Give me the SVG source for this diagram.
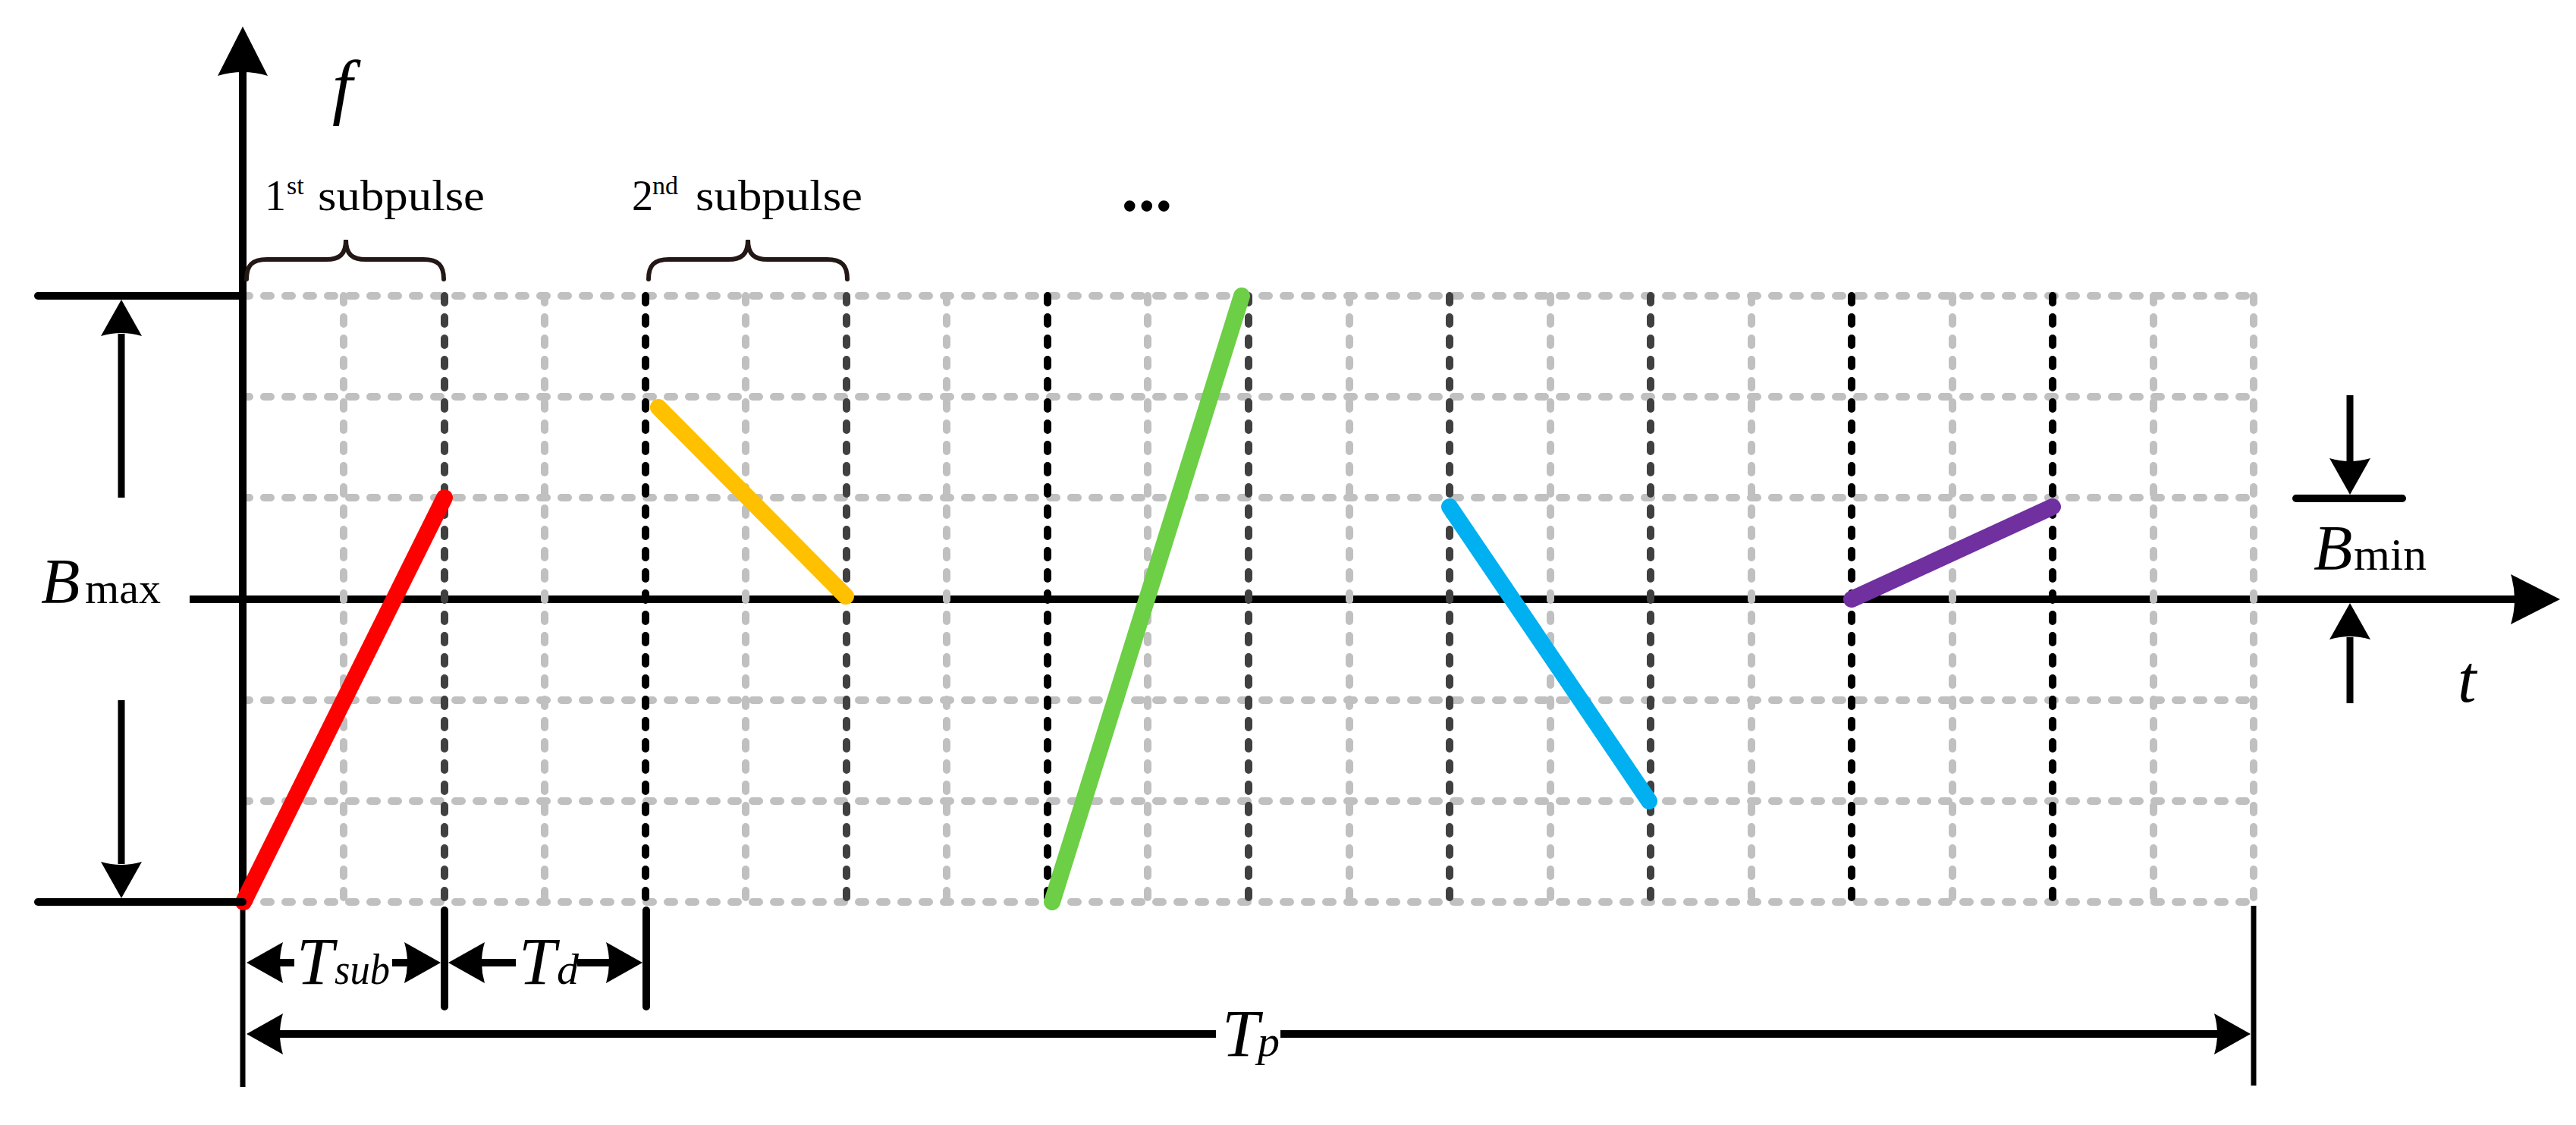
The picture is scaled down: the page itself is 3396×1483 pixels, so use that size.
<svg xmlns="http://www.w3.org/2000/svg" xmlns:xlink="http://www.w3.org/1999/xlink" width="3396" height="1483" viewBox="0 0 3396 1483">
<style>
  .gh { stroke:#C0C0C0; stroke-width:10; stroke-dasharray:9 19; stroke-linecap:round; fill:none; }
  .gv { stroke:#C0C0C0; stroke-width:10; stroke-dasharray:9 19; stroke-linecap:round; fill:none; }
  .dk { stroke:#404040; stroke-width:10; stroke-dasharray:9 19; stroke-linecap:round; fill:none; }
  .bk { stroke:#000000; stroke-width:10; stroke-dasharray:9 19; stroke-linecap:round; fill:none; }
  .ax { stroke:#000; stroke-width:10; fill:none; }
  .dim { stroke:#000; stroke-width:9; fill:none; }
  .tick { stroke:#000; stroke-width:10; stroke-linecap:round; fill:none; }
  .thin { stroke:#000; stroke-width:7; fill:none; }
  .chirp { stroke-width:22; stroke-linecap:round; fill:none; }
  .brace { stroke:#231815; stroke-width:6; fill:none; stroke-linecap:round; }
  text { font-family:"Liberation Serif","Times New Roman",serif; fill:#000; }
  .it { font-style:italic; }
</style>
<defs>
  <path id="ahBig" d="M0,0 L-65,-33 Q-55,0 -65,33 Z" fill="#000"/>
  <path id="ahSm" d="M0,0 L-48,-27 Q-40,0 -48,27 Z" fill="#000"/>
</defs>
<rect width="3396" height="1483" fill="#fff"/>

<g id="grid-horizontal">
  <line class="gh" x1="320" y1="390" x2="2971" y2="390"/>
  <line class="gh" x1="320" y1="523" x2="2971" y2="523"/>
  <line class="gh" x1="320" y1="656" x2="2971" y2="656"/>
  <line class="gh" x1="320" y1="923" x2="2971" y2="923"/>
  <line class="gh" x1="320" y1="1056" x2="2971" y2="1056"/>
  <line class="gh" x1="320" y1="1189" x2="2971" y2="1189"/>
</g>

<g id="t-axis">
  <line class="ax" x1="250" y1="790" x2="3320" y2="790"/>
  <use xlink:href="#ahBig" href="#ahBig" transform="translate(3375,790)"/>
</g>

<g id="grid-vertical">
  <line class="gv" x1="453" y1="390" x2="453" y2="1189"/>
  <line class="gv" x1="718" y1="390" x2="718" y2="1189"/>
  <line class="gv" x1="983" y1="390" x2="983" y2="1189"/>
  <line class="gv" x1="1248" y1="390" x2="1248" y2="1189"/>
  <line class="gv" x1="1513" y1="390" x2="1513" y2="1189"/>
  <line class="gv" x1="1779" y1="390" x2="1779" y2="1189"/>
  <line class="gv" x1="2044" y1="390" x2="2044" y2="1189"/>
  <line class="gv" x1="2309" y1="390" x2="2309" y2="1189"/>
  <line class="gv" x1="2574" y1="390" x2="2574" y2="1189"/>
  <line class="gv" x1="2839" y1="390" x2="2839" y2="1189"/>
  <line class="gv" x1="2971" y1="390" x2="2971" y2="1189"/>
</g>

<g id="subpulse-bounds">
  <line class="dk" x1="586" y1="390" x2="586" y2="1189"/>
  <line class="bk" x1="851" y1="390" x2="851" y2="1189"/>
  <line class="dk" x1="1116" y1="390" x2="1116" y2="1189"/>
  <line class="bk" x1="1381" y1="390" x2="1381" y2="1189"/>
  <line class="dk" x1="1646" y1="390" x2="1646" y2="1189"/>
  <line class="dk" x1="1911" y1="390" x2="1911" y2="1189"/>
  <line class="dk" x1="2176" y1="390" x2="2176" y2="1189"/>
  <line class="bk" x1="2441" y1="390" x2="2441" y2="1189"/>
  <line class="bk" x1="2706" y1="390" x2="2706" y2="1189"/>
</g>

<g id="f-axis">
  <line class="ax" x1="320" y1="95" x2="320" y2="1189"/>
  <line class="thin" x1="320" y1="1189" x2="320" y2="1433"/>
  <use xlink:href="#ahBig" href="#ahBig" transform="translate(320,35) rotate(-90)"/>
</g>

<g id="chirps">
  <line class="chirp" stroke="#FF0000" x1="321" y1="1189" x2="586" y2="656"/>
  <line class="chirp" stroke="#FFC000" x1="868" y1="537" x2="1115" y2="786"/>
  <line class="chirp" stroke="#6CCF45" x1="1387" y1="1189" x2="1637" y2="390"/>
  <line class="chirp" stroke="#00B0F0" x1="1911" y1="668" x2="2174" y2="1056"/>
  <line class="chirp" stroke="#7030A0" x1="2441" y1="790" x2="2706" y2="668"/>
</g>

<g id="bmax">
  <line class="tick" x1="50" y1="390" x2="320" y2="390"/>
  <line class="tick" x1="50" y1="1189" x2="320" y2="1189"/>
  <line class="dim" x1="160" y1="656" x2="160" y2="440"/>
  <use xlink:href="#ahSm" href="#ahSm" transform="translate(160,395) rotate(-90)"/>
  <line class="dim" x1="160" y1="923" x2="160" y2="1139"/>
  <use xlink:href="#ahSm" href="#ahSm" transform="translate(160,1184) rotate(90)"/>
  <text class="it" x="54" y="795" font-size="84">B</text>
  <text x="112" y="795" font-size="58" textLength="100" lengthAdjust="spacingAndGlyphs">max</text>
</g>

<g id="bmin">
  <line class="tick" x1="3027" y1="657" x2="3167" y2="657"/>
  <line class="dim" x1="3098" y1="521" x2="3098" y2="608"/>
  <use xlink:href="#ahSm" href="#ahSm" transform="translate(3098,652) rotate(90)"/>
  <line class="dim" x1="3098" y1="927" x2="3098" y2="840"/>
  <use xlink:href="#ahSm" href="#ahSm" transform="translate(3098,795) rotate(-90)"/>
  <text class="it" x="3050" y="751" font-size="84">B</text>
  <text x="3103" y="751" font-size="60" textLength="96" lengthAdjust="spacingAndGlyphs">min</text>
</g>

<g id="axis-labels">
  <text class="it" x="438" y="146" font-size="96">f</text>
  <text class="it" x="3240" y="925" font-size="88">t</text>
</g>

<g id="subpulse-1">
  <path class="brace" d="M325,368 C325,350 332,342 352,342 L430,342 C447,342 456,336 456,316 C456,336 465,342 482,342 L558,342 C578,342 585,350 585,368"/>
  <text x="349" y="277" font-size="56">1</text>
  <text x="378" y="256" font-size="34">st</text>
  <text x="419" y="277" font-size="58" textLength="220" lengthAdjust="spacingAndGlyphs">subpulse</text>
</g>

<g id="subpulse-2">
  <path class="brace" d="M855,368 C855,350 862,342 882,342 L960,342 C977,342 986,336 986,316 C986,336 995,342 1012,342 L1090,342 C1110,342 1117,350 1117,368"/>
  <text x="833" y="277" font-size="56">2</text>
  <text x="860" y="256" font-size="34">nd</text>
  <text x="917" y="277" font-size="58" textLength="220" lengthAdjust="spacingAndGlyphs">subpulse</text>
</g>

<g id="ellipsis">
  <text x="1478" y="278" font-size="90" font-weight="bold">...</text>
</g>

<g id="connectors">
  <line class="tick" x1="586" y1="1200" x2="586" y2="1327"/>
  <line class="tick" x1="852" y1="1200" x2="852" y2="1327"/>
  <line class="thin" x1="2971" y1="1194" x2="2971" y2="1431"/>
  <!-- Tsub -->
  <use xlink:href="#ahSm" href="#ahSm" transform="translate(325,1269) rotate(180)"/>
  <line class="ax" x1="368" y1="1269" x2="388" y2="1269"/>
  <line class="ax" x1="517" y1="1269" x2="538" y2="1269"/>
  <use xlink:href="#ahSm" href="#ahSm" transform="translate(581,1269)"/>
  <!-- Td -->
  <use xlink:href="#ahSm" href="#ahSm" transform="translate(591,1269) rotate(180)"/>
  <line class="ax" x1="634" y1="1269" x2="680" y2="1269"/>
  <line class="ax" x1="761" y1="1269" x2="804" y2="1269"/>
  <use xlink:href="#ahSm" href="#ahSm" transform="translate(847,1269)"/>
  <!-- Tp -->
  <use xlink:href="#ahSm" href="#ahSm" transform="translate(325,1363) rotate(180)"/>
  <line class="ax" x1="368" y1="1363" x2="1603" y2="1363"/>
  <line class="ax" x1="1688" y1="1363" x2="2924" y2="1363"/>
  <use xlink:href="#ahSm" href="#ahSm" transform="translate(2967,1363)"/>
</g>

<g id="time-labels">
  <text class="it" x="391" y="1297" font-size="88">T</text>
  <text class="it" x="441" y="1297" font-size="58" textLength="73" lengthAdjust="spacingAndGlyphs">sub</text>
  <text class="it" x="684" y="1297" font-size="88">T</text>
  <text class="it" x="734" y="1297" font-size="58">d</text>
  <text class="it" x="1611" y="1392" font-size="88">T</text>
  <text class="it" x="1658" y="1392" font-size="58">p</text>
</g>
</svg>
